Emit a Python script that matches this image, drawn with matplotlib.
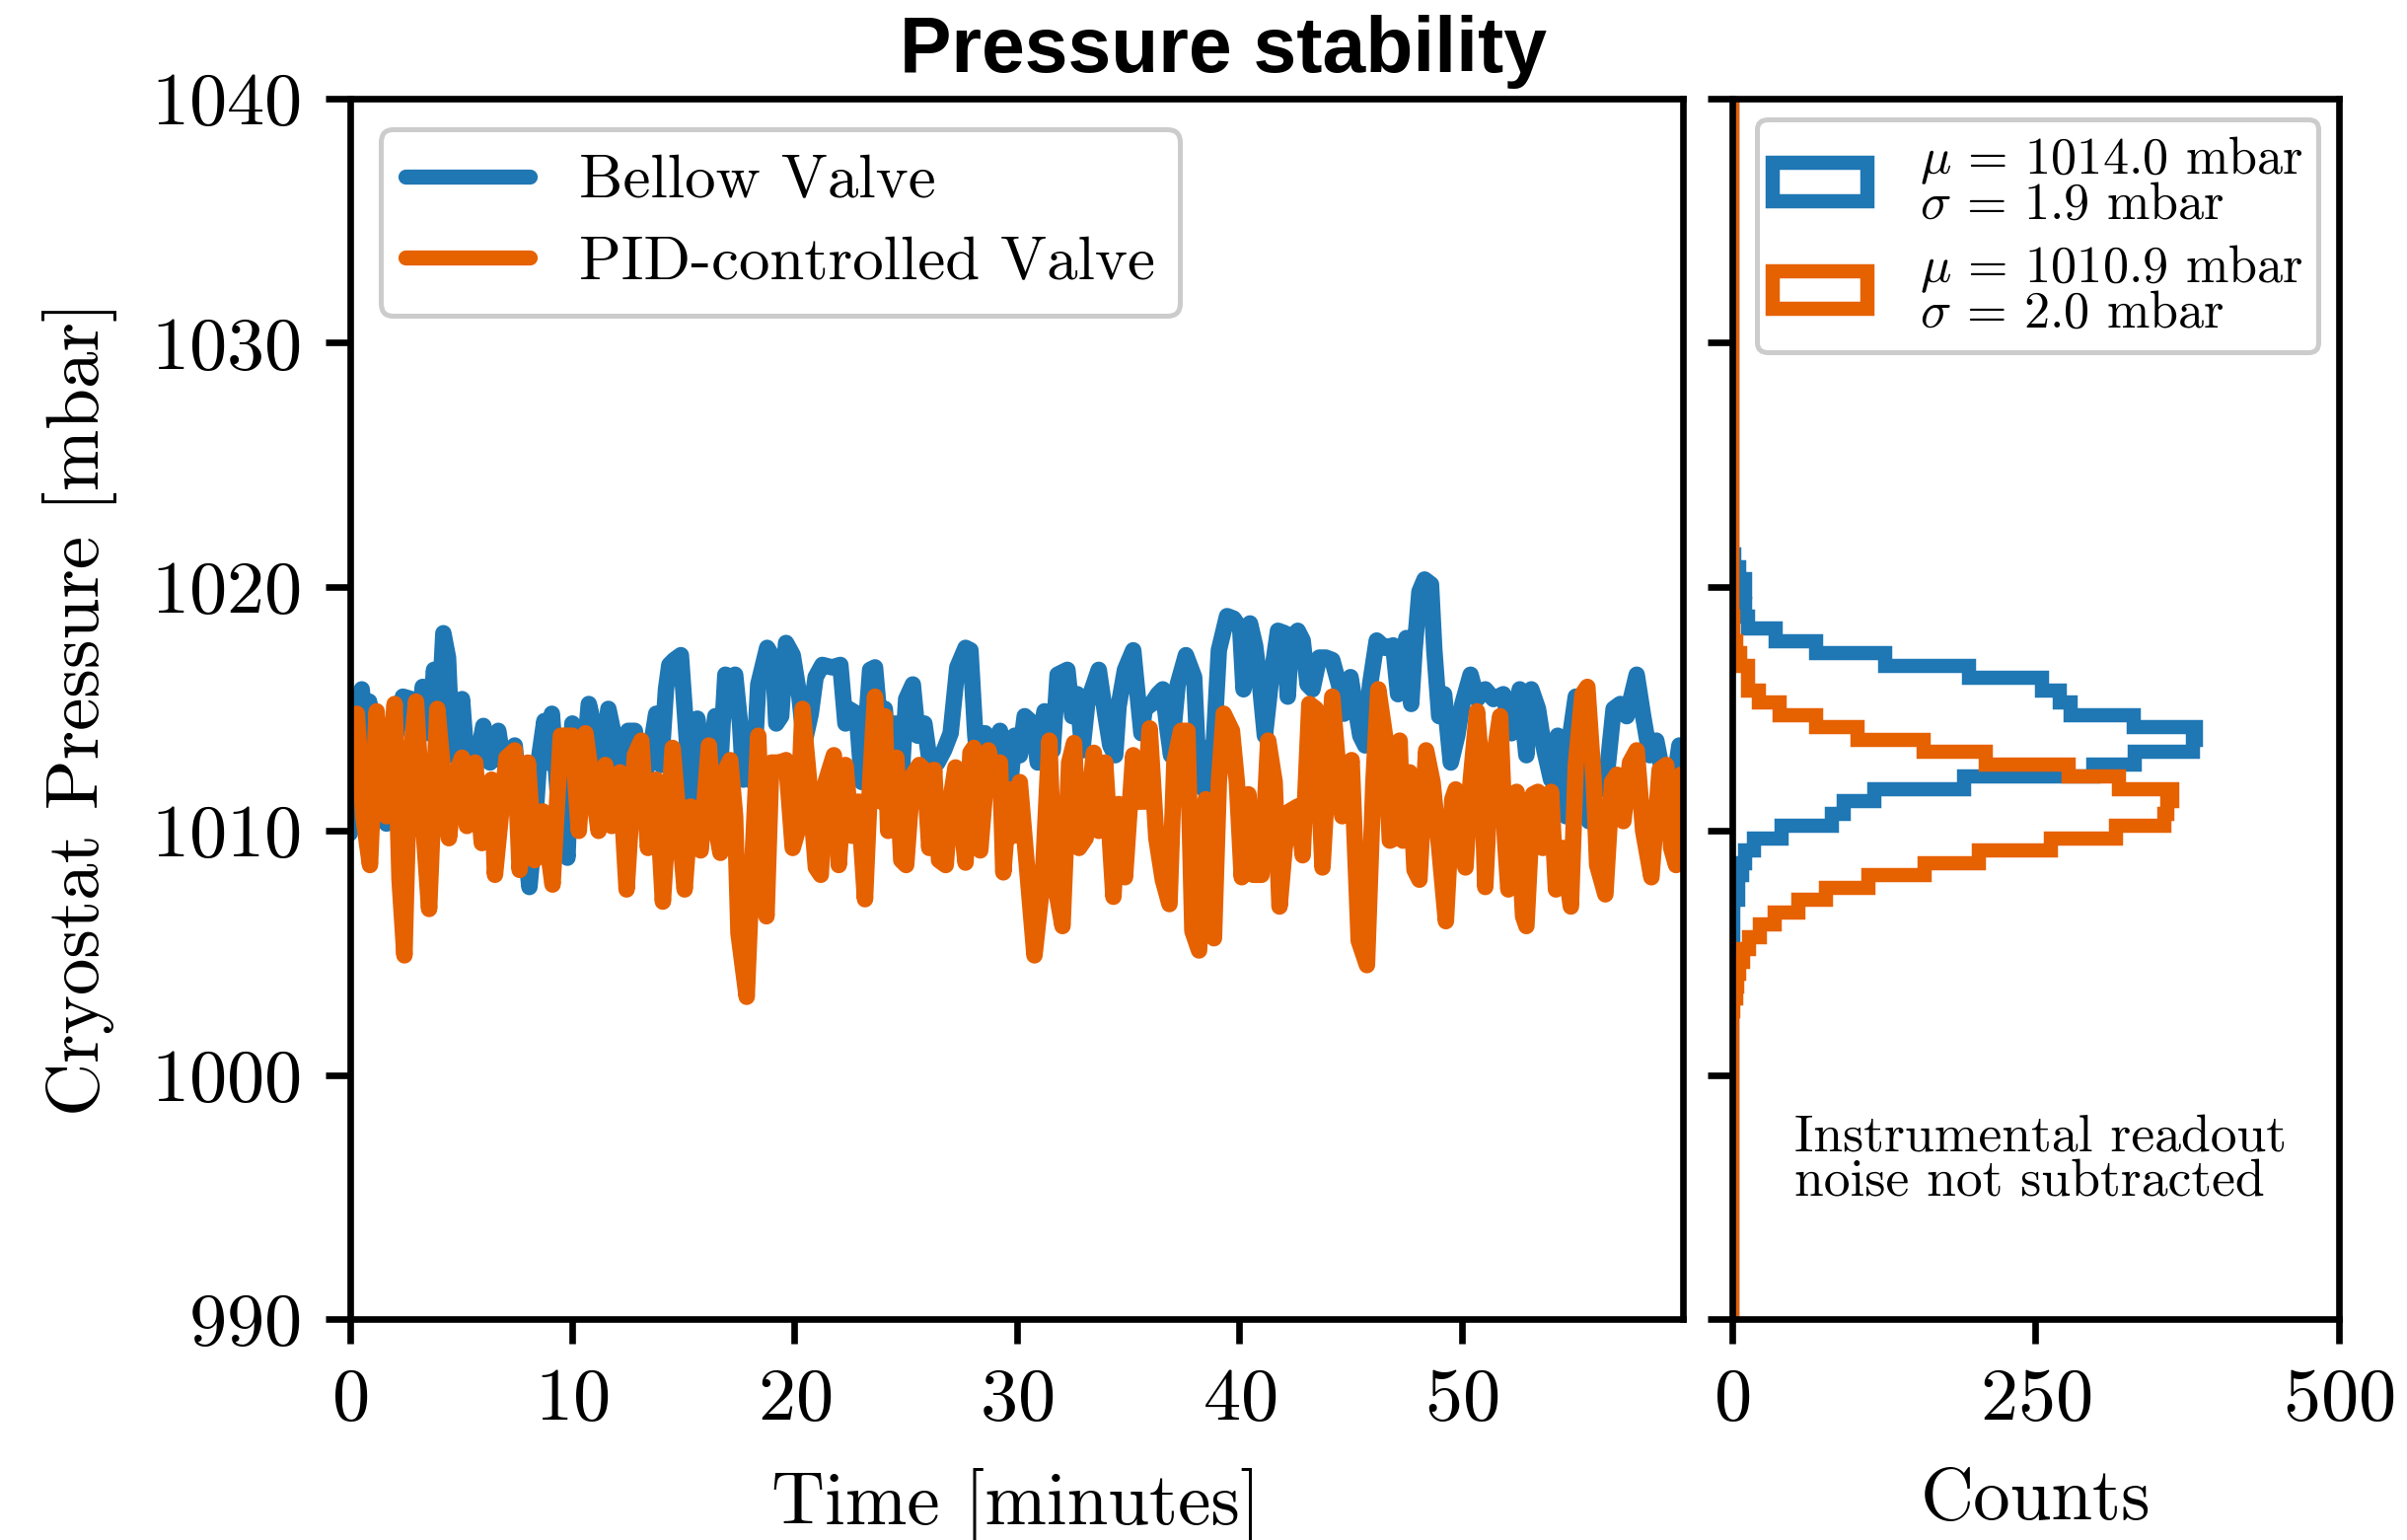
import numpy as np
import matplotlib
matplotlib.use("Agg")
import matplotlib.pyplot as plt

plt.rcParams.update({
    "font.family": "serif",
    "font.serif": ["cmr10"],
    "mathtext.fontset": "cm",
    "axes.formatter.use_mathtext": True,
    "axes.unicode_minus": False,
})

# ---------------- time series (minutes, mbar) ----------------
time_bellow = [
    0.00, 0.54, 0.76, 0.87, 1.13, 1.65, 1.95, 2.39, 2.76, 2.98, 3.28, 3.57, 3.79, 4.02, 4.21, 4.42,
    4.61, 4.83, 5.05, 5.24, 5.42, 5.64, 6.01, 6.31, 6.68, 6.90, 7.42, 7.64, 7.86, 8.08, 8.31, 8.53,
    8.75, 8.90, 9.09, 9.34, 9.56, 9.79, 10.01, 10.30, 10.52, 10.75, 11.04, 11.34, 11.63, 11.93,
    12.23, 12.52, 12.82, 13.11, 13.41, 13.78, 14.00, 14.22, 14.37, 14.59, 14.89,
    15.19, 15.48, 15.63, 15.78, 16.07, 16.44, 16.67, 16.89, 17.18, 17.33, 17.55, 17.70, 17.92,
    18.14, 18.37, 18.77, 19.03, 19.18, 19.40, 19.62, 19.92, 20.22, 20.44, 20.73, 20.95, 21.25,
    21.69, 22.06, 22.29, 22.43, 22.80, 23.03, 23.40, 23.62, 23.84, 24.06, 24.36, 24.51, 24.80,
    25.02, 25.32, 25.54, 25.84, 26.13, 26.43, 26.72, 27.02, 27.32, 27.69, 27.91, 28.13, 28.35,
    28.57, 28.87, 29.24, 29.46, 29.68, 29.90, 30.13, 30.35,
    30.72, 30.94, 31.24, 31.61, 31.83, 32.27, 32.49, 32.72, 32.94, 33.16, 33.38, 33.68, 33.97,
    34.20, 34.42, 34.57, 34.86, 35.23, 35.38, 35.60, 35.75, 36.05, 36.34, 36.56, 36.78, 36.93,
    37.23, 37.60, 37.97, 38.19, 38.41, 38.56, 38.86, 39.08, 39.45, 39.74, 40.04, 40.19, 40.48,
    40.71, 40.93, 41.15, 41.44, 41.74, 42.04, 42.18, 42.33, 42.63, 42.85, 43.07, 43.29, 43.59,
    43.89, 44.18, 44.48, 44.70, 45.00,
    45.44, 45.66, 45.88, 46.18, 46.55, 46.92, 47.14, 47.51, 47.73, 47.88, 48.10, 48.33, 48.62,
    48.77, 48.99, 49.21, 49.51, 49.80, 50.03, 50.40, 50.69, 51.06, 51.43, 51.87, 52.24, 52.61,
    52.91, 53.13, 53.43, 53.72, 54.02, 54.32, 54.69, 54.91, 55.13, 55.57, 55.72, 56.09, 56.46,
    56.83, 57.13, 57.42, 57.87, 58.16, 58.46, 58.75, 59.05, 59.42, 59.79,
]
pressure_bellow = [
    1009.9, 1015.8, 1013.3, 1015.3, 1012.0, 1010.3, 1013.3, 1015.5, 1015.4, 1012.7, 1015.9, 1014.0,
    1016.6, 1014.7, 1018.1, 1017.1, 1013.1, 1013.9, 1015.4, 1013.1, 1012.0, 1012.5, 1014.3, 1012.8,
    1014.1, 1012.8, 1013.5, 1011.3, 1009.6, 1007.7, 1010.0, 1013.1, 1014.5, 1012.8, 1014.8, 1011.7,
    1010.6, 1008.9, 1014.4, 1013.9, 1012.8, 1015.2, 1014.1, 1012.0, 1015.0, 1013.7, 1012.1, 1014.1,
    1014.1, 1012.0, 1012.7, 1014.8, 1012.7, 1015.8, 1016.8, 1017.0, 1017.2,
    1013.3, 1010.9, 1014.6, 1013.1, 1012.0, 1014.7, 1012.8, 1016.4, 1016.3, 1016.4, 1014.4, 1012.1,
    1013.9, 1012.0, 1016.0, 1017.5, 1017.1, 1014.4, 1014.7, 1017.7, 1017.2, 1015.5, 1013.6, 1014.8,
    1016.3, 1016.8, 1016.7, 1016.8, 1014.4, 1015.0, 1014.8, 1012.0, 1016.6, 1016.7, 1014.4, 1015.0,
    1011.2, 1014.4, 1012.0, 1015.4, 1016.0, 1013.9, 1014.4, 1012.5, 1012.8, 1013.3, 1014.0, 1016.7,
    1017.5, 1017.4, 1013.9, 1012.0, 1014.0, 1013.3, 1014.1, 1012.8, 1011.7, 1013.9, 1013.1, 1014.7,
    1014.4, 1012.8, 1014.9, 1013.3, 1016.4, 1016.6, 1014.7, 1015.6, 1013.3, 1015.2, 1015.8, 1016.6,
    1014.8, 1013.5, 1013.1, 1015.1, 1016.6, 1017.4, 1016.0, 1014.0, 1015.0, 1015.2, 1015.6, 1015.8,
    1014.1, 1013.1, 1016.0, 1017.2, 1016.3, 1012.0, 1011.7, 1012.8, 1013.7, 1017.4, 1018.8, 1018.7,
    1018.3, 1015.8, 1018.5, 1017.6, 1016.0, 1013.9, 1016.3, 1018.2, 1018.1, 1015.5, 1017.9, 1018.2,
    1017.8, 1016.0, 1015.8, 1017.1, 1017.1, 1017.0, 1016.0, 1014.8, 1016.3,
    1013.9, 1013.5, 1016.0, 1017.8, 1017.5, 1017.6, 1015.6, 1017.9, 1015.2, 1017.4, 1019.8, 1020.3,
    1020.1, 1017.4, 1014.7, 1015.6, 1012.8, 1013.9, 1015.2, 1016.4, 1015.4, 1015.8, 1015.4, 1015.6,
    1014.0, 1015.8, 1013.1, 1015.8, 1015.0, 1013.3, 1012.1, 1013.9, 1010.6, 1014.1, 1015.5, 1012.0,
    1010.4, 1012.0, 1011.7, 1015.0, 1015.2, 1014.7, 1016.4, 1014.7, 1013.1, 1013.7, 1012.3, 1011.2,
    1013.5,
]

time_pid = [
    0.02, 0.32, 0.61, 0.91, 1.21, 1.43, 1.65, 2.02, 2.24, 2.46, 2.68, 2.98, 3.28, 3.57, 3.94, 4.24,
    4.46, 4.76, 5.05, 5.27, 5.64, 5.94, 6.38, 6.53, 7.05, 7.42, 7.64, 8.01, 8.31, 8.68, 9.12, 9.49,
    10.01, 10.30, 10.60, 11.19, 11.49, 11.78, 12.15, 12.45, 12.82, 13.11, 13.41, 13.78, 14.08,
    14.52, 15.06,
    15.33, 15.78, 16.15, 16.37, 16.67, 16.81, 17.11, 17.33, 17.48, 17.85, 18.07, 18.37, 18.59,
    18.74, 18.96, 19.33, 19.62, 19.92, 20.14, 20.36, 20.66, 20.96, 21.18, 21.40, 21.77, 21.99,
    22.29, 22.58, 22.88, 23.17, 23.40, 23.62, 23.91, 24.06, 24.21, 24.58, 24.80, 25.02, 25.32,
    25.61, 25.84, 26.06, 26.28, 26.50, 26.80, 27.02, 27.24, 27.69, 27.91, 28.06, 28.35, 28.72,
    29.02, 29.24, 29.39, 29.68, 29.83, 30.13,
    30.79, 31.16, 31.46, 31.68, 32.05, 32.35, 32.57, 32.79, 33.09, 33.46, 33.68, 33.97, 34.34,
    34.57, 34.86, 35.23, 35.45, 35.75, 35.97, 36.27, 36.56, 36.86, 37.08, 37.38, 37.67, 37.89,
    38.19, 38.49, 38.86, 39.08, 39.30, 39.67, 39.89, 40.11, 40.41, 40.63, 41.00, 41.30, 41.59,
    41.81, 42.04, 42.26, 42.63, 42.85, 43.15, 43.44, 43.74, 44.18, 44.40, 44.63, 45.05,
    45.37, 45.74, 46.03, 46.25, 46.55, 46.77, 46.99, 47.21, 47.36, 47.66, 47.88, 48.10, 48.40,
    48.69, 48.99, 49.29, 49.58, 49.73, 49.95, 50.17, 50.40, 50.69, 50.91, 51.06, 51.28, 51.73,
    51.95, 52.10, 52.47, 52.76, 52.91, 53.21, 53.43, 53.65, 54.02, 54.24, 54.54, 54.91, 55.13,
    55.43, 55.65, 55.94, 56.09, 56.46, 56.76, 56.98, 57.27, 57.57, 57.87, 58.16, 58.53, 58.90,
    59.20, 59.42, 59.64, 59.86,
]
pressure_pid = [
    1013.3, 1014.8, 1010.6, 1008.6, 1014.9, 1012.0, 1010.6, 1015.2, 1008.0, 1004.9, 1012.5, 1015.3,
    1010.6, 1006.8, 1015.0, 1012.0, 1009.7, 1012.3, 1013.0, 1010.2, 1012.8, 1009.5, 1012.1, 1008.2,
    1013.0, 1013.3, 1008.4, 1012.8, 1008.8, 1010.8, 1007.8, 1013.9, 1013.9, 1010.0, 1014.0, 1010.0,
    1012.7, 1010.2, 1012.4, 1007.6, 1013.1, 1013.7, 1009.3, 1012.1, 1007.1, 1013.4, 1007.6,
    1011.0, 1009.2, 1013.5, 1010.6, 1009.1, 1012.3, 1012.9, 1010.6, 1005.8, 1003.2, 1008.0, 1013.9,
    1008.0, 1006.5, 1012.8, 1012.8, 1012.9, 1009.3, 1010.0, 1015.0, 1012.0, 1008.5, 1008.2, 1012.0,
    1013.1, 1008.6, 1012.7, 1009.8, 1011.2, 1007.2, 1012.0, 1015.5, 1011.2, 1014.7, 1010.0, 1013.0,
    1008.8, 1008.6, 1012.3, 1012.7, 1012.5, 1009.3, 1012.5, 1008.8, 1008.6, 1011.3, 1012.6, 1008.7,
    1013.2, 1013.4, 1009.2, 1013.3, 1012.1, 1012.8, 1008.3, 1011.7, 1009.8, 1012.0,
    1004.9, 1008.0, 1013.7, 1008.0, 1006.1, 1012.8, 1013.6, 1009.3, 1009.7, 1013.2, 1010.0, 1012.8,
    1007.3, 1011.1, 1008.1, 1013.1, 1011.2, 1011.2, 1014.2, 1009.7, 1008.0, 1007.0, 1012.8, 1014.1,
    1014.1, 1005.9, 1005.1, 1011.3, 1005.6, 1012.0, 1014.8, 1014.1, 1012.0, 1008.1, 1011.5, 1008.2,
    1008.2, 1013.7, 1012.0, 1006.9, 1009.3, 1010.8, 1011.0, 1009.0, 1015.2, 1015.0, 1008.5, 1015.5,
    1013.1, 1010.6, 1012.9,
    1005.5, 1004.5, 1012.0, 1015.8, 1013.9, 1009.6, 1009.7, 1013.7, 1009.6, 1012.4, 1008.4, 1008.0,
    1013.3, 1012.0, 1009.3, 1006.3, 1011.3, 1011.7, 1009.3, 1008.5, 1012.0, 1014.9, 1012.3, 1007.7,
    1012.0, 1014.7, 1009.6, 1007.6, 1011.6, 1006.5, 1006.1, 1011.5, 1011.6, 1009.3, 1011.6, 1007.6,
    1009.3, 1006.9, 1012.7, 1015.6, 1015.9, 1012.0, 1008.6, 1007.4, 1012.0, 1012.3, 1010.4, 1012.8,
    1013.3, 1010.0, 1008.1, 1012.5, 1012.7, 1009.3, 1008.6, 1012.3,
]

# ---------------- histograms (99 bins spanning 990-1040 mbar) ----------------
hist_edges = np.linspace(990, 1040, 100)
bellow_first_bin = 31
bellow_counts = [1, 1, 1, 5, 5, 8, 11, 18, 41, 82, 92, 117, 191, 298, 332, 380, 382, 331, 279,
                 270, 255, 195, 126, 69, 36, 13, 11, 6, 11, 6, 2]
pid_first_bin = 25
pid_counts = [1, 3, 4, 6, 9, 14, 23, 35, 55, 77, 112, 159, 203, 263, 316, 356, 359, 363, 319,
              277, 209, 158, 103, 69, 39, 22, 13, 13, 7, 3, 1, 1]

bellow_label = "$\\mu$ = 1014.0 mbar\n$\\sigma$ = 1.9 mbar"
pid_label = "$\\mu$ = 1010.9 mbar\n$\\sigma$ = 2.0 mbar"

BLUE = "#1f77b4"
ORANGE = "#e66100"


def full_counts(first, values):
    counts = np.zeros(len(hist_edges) - 1)
    counts[first:first + len(values)] = values
    return counts


bin_centers = 0.5 * (hist_edges[1:] + hist_edges[:-1])

fig = plt.figure(figsize=(12.2, 7.805), dpi=200)
ax = fig.add_axes([0.1453, 0.1435, 0.5539, 0.7924])
axh = fig.add_axes([0.7196, 0.1435, 0.2521, 0.7924], sharey=ax)

line_kw = dict(lw=6.0, solid_joinstyle="round", solid_capstyle="round")
ax.plot(time_bellow, pressure_bellow, color=BLUE, label="Bellow Valve", **line_kw)
ax.plot(time_pid, pressure_pid, color=ORANGE, label="PID-controlled Valve", **line_kw)
ax.set_xlim(0, 59.95)
ax.set_ylim(990, 1040)
ax.set_xticks([0, 10, 20, 30, 40, 50])
ax.set_yticks([990, 1000, 1010, 1020, 1030, 1040])
ax.set_xlabel("Time [minutes]", fontsize=27, labelpad=12)
ax.set_ylabel("Cryostat Pressure [mbar]", fontsize=27, labelpad=12)

leg = ax.legend(loc="upper left", fontsize=22.6, frameon=True, fancybox=True,
                edgecolor="0.8", framealpha=1.0, borderaxespad=0.5, labelspacing=0.42)
leg.get_frame().set_linewidth(1.8)
for h in leg.get_lines():
    h.set_linewidth(5.5)

axh.hist(bin_centers, bins=hist_edges, weights=full_counts(bellow_first_bin, bellow_counts),
         histtype="step", orientation="horizontal", color=BLUE, lw=5.2, label=bellow_label)
axh.hist(bin_centers, bins=hist_edges, weights=full_counts(pid_first_bin, pid_counts),
         histtype="step", orientation="horizontal", color=ORANGE, lw=5.2, label=pid_label)
axh.set_xlim(0, 500)
axh.set_xticks([0, 250, 500])
axh.set_xlabel("Counts", fontsize=27, labelpad=12)
axh.tick_params(axis="y", labelleft=False)

leg2 = axh.legend(loc="upper right", fontsize=18.8, frameon=True, fancybox=True,
                  edgecolor="0.8", framealpha=1.0, handlelength=1.85, handleheight=0.75,
                  handletextpad=1.0, labelspacing=0.28, borderaxespad=0.4, borderpad=0.3)
leg2.get_frame().set_linewidth(1.8)
for t in leg2.get_texts():
    t.set_linespacing(0.88)

axh.text(0.103, 0.168, "Instrumental readout\nnoise not subtracted",
         transform=axh.transAxes, va="top", ha="left", fontsize=19.3, linespacing=0.97)

for a in (ax, axh):
    for s in a.spines.values():
        s.set_linewidth(2.4)
    a.tick_params(direction="out", length=9, width=2.4, labelsize=27.5, pad=9)

fig.text(0.508, 0.953, "Pressure stability", ha="center", va="baseline",
         fontsize=28.3, fontweight="bold", family="Liberation Sans")

fig.savefig("out.png", dpi=200)
